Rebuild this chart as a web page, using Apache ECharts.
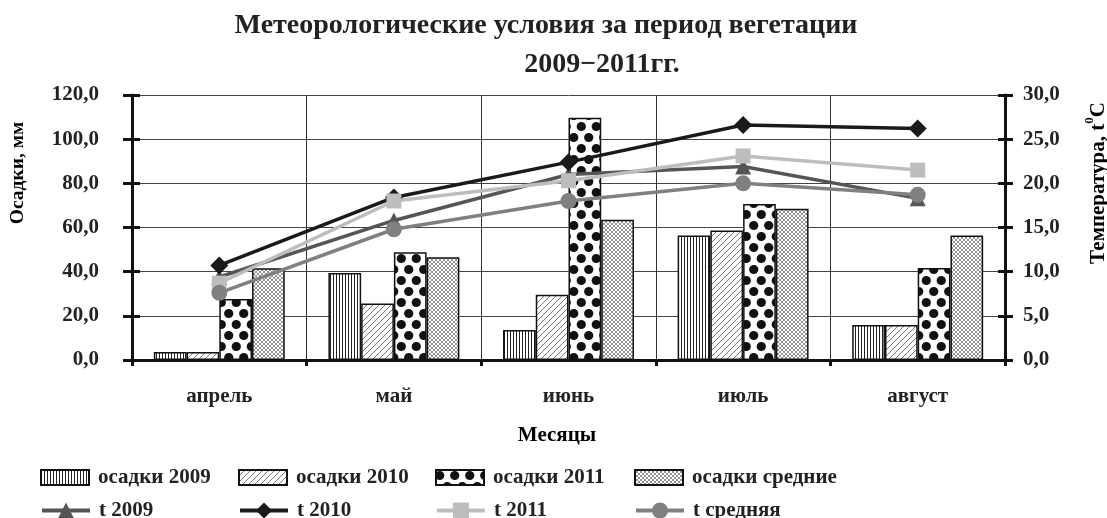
<!DOCTYPE html>
<html><head><meta charset="utf-8">
<script src="https://cdn.jsdelivr.net/npm/echarts@6/dist/echarts.min.js"></script>
<style>html,body{margin:0;padding:0;background:#fff}#c{width:1107px;height:518px}</style>
</head><body><div id="c"></div>
<script>
const months = ['апрель','май','июнь','июль','август'];
const rain2009 = [3.6, 39.4, 13.6, 56.4, 15.8];
const rain2010 = [3.6, 25.6, 29.5, 58.6, 15.8];
const rain2011 = [27.6, 48.8, 109.7, 70.6, 41.7];
const rainAvg  = [41.5, 46.5, 63.5, 68.5, 56.4];
const t2009 = [9.4, 15.8, 21.0, 21.9, 18.3];
const t2010 = [10.7, 18.4, 22.4, 26.6, 26.2];
const t2011 = [8.7, 18.0, 20.3, 23.1, 21.5];
const tAvg  = [7.6, 14.8, 18.0, 20.0, 18.7];
const rainTicks = [0, 120, 20];
const tempTicks = [0, 30, 5];

function pat(w, h, draw) {
  const c = document.createElement('canvas'); c.width = w; c.height = h;
  const g = c.getContext('2d'); g.fillStyle = '#fff'; g.fillRect(0, 0, w, h); draw(g);
  return { image: c, repeat: 'repeat' };
}
const pVert = pat(3, 4, g => { g.fillStyle = '#222'; g.fillRect(0, 0, 1, 4); });
const pDiag = pat(6, 6, g => { g.strokeStyle = '#555'; g.lineWidth = 0.8;
  g.beginPath(); g.moveTo(0, 6); g.lineTo(6, 0); g.moveTo(-1, 1); g.lineTo(1, -1); g.moveTo(5, 7); g.lineTo(7, 5); g.stroke(); });
const pDots = pat(15, 22, g => { g.fillStyle = '#111';
  const W = 15, H = 22;
  [[3.75, 5.5], [11.25, 16.5]].forEach(p => {
    for (let dx = -W; dx <= W; dx += W) for (let dy = -H; dy <= H; dy += H) {
      g.beginPath(); g.arc(p[0] + dx, p[1] + dy, 4.6, 0, Math.PI * 2); g.fill();
    }
  }); });
const pCross = pat(4, 4, g => { g.strokeStyle = '#777'; g.lineWidth = 0.8;
  g.beginPath(); g.moveTo(0, 0); g.lineTo(4, 4); g.moveTo(4, 0); g.lineTo(0, 4); g.stroke(); });

const F = 'Liberation Serif';
const FS = 21;
const fmt = v => v.toFixed(1).replace('.', ',');
const chart = echarts.init(document.getElementById('c'), null, { renderer: 'canvas' });

function bar(name, data, p) {
  return { name, type: 'bar', data, yAxisIndex: 0, barGap: '0%', barCategoryGap: '25%',
    itemStyle: { color: p, borderColor: '#111', borderWidth: 1.5 }, z: 2 };
}
function line(name, data, color, symbol, size) {
  return { name, type: 'line', data, yAxisIndex: 1, symbol, symbolSize: size,
    lineStyle: { color, width: 3.5 }, itemStyle: { color }, z: 5 };
}
const legendPos = [
  ['осадки 2009', 40, 467, 'rect'], ['осадки 2010', 238, 467, 'rect'], ['осадки 2011', 435, 467, 'rect'], ['осадки средние', 634, 467, 'rect'],
  ['t 2009', 40, 500], ['t 2010', 238, 500], ['t 2011', 435, 500], ['t средняя', 634, 500]
];
const legends = legendPos.map(l => ({
  data: [l[3] ? { name: l[0], icon: l[3] } : { name: l[0], lineStyle: { width: 4 } }],
  left: l[1], top: l[2], itemWidth: 48, itemHeight: l[3] ? 15 : 20, itemGap: 0, padding: 0,
  lineStyle: { width: 4 },
  textStyle: { fontFamily: F, fontWeight: 'bold', fontSize: FS, color: '#222', padding: [0, 0, 0, 4] }, selectedMode: false }));

const yBase = (r, pos) => ({ type: 'value', min: r[0], max: r[1], interval: r[2], position: pos });
const txt = { fontFamily: F, fontWeight: 'bold', fontSize: FS, color: '#222' };

chart.setOption({
  animation: false,
  backgroundColor: '#fff',
  title: [
    { text: 'Метеорологические условия за период вегетации', left: 541, top: 7, textAlign: 'center',
      textStyle: { fontFamily: F, fontWeight: 'bold', fontSize: 28, color: '#222' } },
    { text: '2009−2011гг.', left: 597, top: 46, textAlign: 'center',
      textStyle: { fontFamily: F, fontWeight: 'bold', fontSize: 28, color: '#222' } }
  ],
  legend: legends,
  grid: { left: 132, right: 102, top: 95, bottom: 158 },
  graphic: [
    { type: 'text', x: 18, y: 173, rotation: Math.PI / 2,
      style: Object.assign({}, txt, { text: 'Осадки, мм', fontSize: 19.5, align: 'center', verticalAlign: 'middle' }) },
    { type: 'text', x: 1096, y: 183, rotation: Math.PI / 2,
      style: { text: '{a|Температура, t}{s|0}{a|C}', align: 'center', verticalAlign: 'middle',
        rich: { a: Object.assign({ lineHeight: 26, verticalAlign: 'bottom' }, txt),
                s: Object.assign({}, txt, { fontSize: 13, lineHeight: 26, verticalAlign: 'top' }) } } },
    { type: 'text', x: 557, y: 436,
      style: Object.assign({ text: 'Месяцы', align: 'center', verticalAlign: 'middle' }, txt) }
  ],
  xAxis: {
    type: 'category', data: months, boundaryGap: true,
    axisLine: { lineStyle: { color: '#111', width: 3 } },
    axisTick: { show: true, length: 6, lineStyle: { color: '#111', width: 3 } },
    axisLabel: Object.assign({ margin: 26 }, txt),
    splitLine: { show: true, lineStyle: { color: '#333', width: 1 } }
  },
  yAxis: [
    Object.assign(yBase(rainTicks, 'left'), {
      axisLine: { show: true, lineStyle: { color: '#111', width: 3 } },
      axisTick: { show: true, length: 9, lineStyle: { color: '#111', width: 3 } },
      axisLabel: Object.assign({ margin: 33, formatter: fmt }, txt),
      splitLine: { show: true, lineStyle: { color: '#444', width: 1 } }
    }),
    Object.assign(yBase(tempTicks, 'right'), {
      axisLine: { show: true, lineStyle: { color: '#111', width: 3 } },
      axisTick: { show: true, length: 8, lineStyle: { color: '#111', width: 3 } },
      axisLabel: Object.assign({ margin: 18, formatter: fmt }, txt),
      splitLine: { show: false }
    }),
    Object.assign(yBase(rainTicks, 'left'), {
      axisLine: { show: false }, axisLabel: { show: false }, splitLine: { show: false },
      axisTick: { show: true, inside: true, length: 8, lineStyle: { color: '#111', width: 3 } }
    }),
    Object.assign(yBase(tempTicks, 'right'), {
      axisLine: { show: false }, axisLabel: { show: false }, splitLine: { show: false },
      axisTick: { show: true, inside: true, length: 7, lineStyle: { color: '#111', width: 3 } }
    })
  ],
  series: [
    bar('осадки 2009', rain2009, pVert),
    bar('осадки 2010', rain2010, pDiag),
    bar('осадки 2011', rain2011, pDots),
    bar('осадки средние', rainAvg, pCross),
    line('t 2009', t2009, '#555555', 'triangle', 16),
    line('t 2010', t2010, '#1a1a1a', 'diamond', 18),
    line('t 2011', t2011, '#bdbdbd', 'rect', 15),
    line('t средняя', tAvg, '#808080', 'circle', 16)
  ]
});
</script></body></html>
